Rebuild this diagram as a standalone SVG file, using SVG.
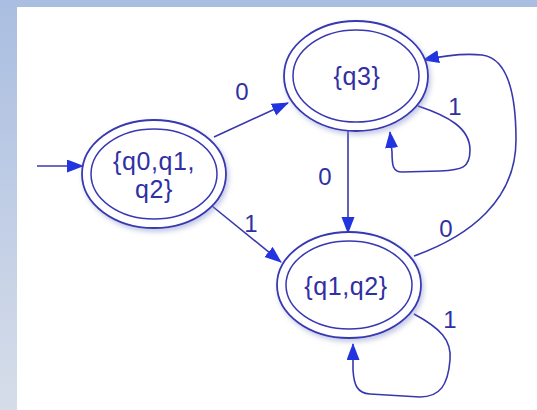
<svg xmlns="http://www.w3.org/2000/svg" width="537" height="410" viewBox="0 0 537 410">
  <defs>
    <linearGradient id="bandLeft" x1="0" y1="0" x2="0" y2="1">
      <stop offset="0" stop-color="#aabee1"/>
      <stop offset="1" stop-color="#d6dde9"/>
    </linearGradient>
    <filter id="soft" x="-20%" y="-20%" width="150%" height="150%">
      <feDropShadow dx="2" dy="3" stdDeviation="2.5" flood-color="#7f88c4" flood-opacity="0.45"/>
    </filter>
    <marker id="head" markerWidth="18" markerHeight="14" refX="16" refY="6.5" orient="auto" markerUnits="userSpaceOnUse">
      <path d="M0,0 L17,6.5 L0,13 Z" fill="#2233e0"/>
    </marker>
    <style>
      .ring { fill: #ffffff; stroke: #3838b2; stroke-width: 1.8; }
      .inner { fill: none; stroke: #3838b2; stroke-width: 1.5; }
      .edge { fill: none; stroke: #3838ae; stroke-width: 1.6; marker-end: url(#head); }
      .label { font-family: "Liberation Sans", Arial, sans-serif; font-size: 24px; fill: #3030a4; text-anchor: middle; }
      .name { font-family: "Liberation Sans", Arial, sans-serif; font-size: 25px; fill: #3030a4; text-anchor: middle; letter-spacing: 0.6px; }
    </style>
  </defs>

  <!-- page frame -->
  <rect x="0" y="0" width="537" height="410" fill="url(#bandLeft)"/>
  <rect x="0" y="0" width="537" height="7" fill="#aabee1"/>
  <rect x="17" y="7" width="520" height="403" fill="#ffffff"/>

  <!-- connectors -->
  <g id="connectors">
    <path class="edge" d="M37,166 L83,166"/>
    <path class="edge" d="M214,137 L288,103"/>
    <path class="edge" d="M212,206 L281,262"/>
    <path class="edge" d="M348,131 L348,233"/>
    <path class="edge" d="M418,106 C448,116 470,128 470,150 C470,168 462,170 440,171 L402,172 C393,172 392,166 392,152 L390,132"/>
    <path class="edge" d="M414,256 C470,236 516,200 516,140 C516,90 506,58 482,55 C462,53 442,56 423,60"/>
    <path class="edge" d="M414,314 C440,328 452,340 450,360 C448,385 440,397 420,397 L370,394 C357,393 354,385 353,370 L353,344"/>
    <text class="label" x="242" y="100">0</text>
    <text class="label" x="251" y="232">1</text>
    <text class="label" x="325" y="185">0</text>
    <text class="label" x="455" y="115">1</text>
    <text class="label" x="446" y="237">0</text>
    <text class="label" x="450" y="328">1</text>
  </g>

  <!-- start state -->
  <g id="n-q0q1q2">
    <ellipse class="ring" cx="154" cy="174" rx="72" ry="54" filter="url(#soft)"/>
    <ellipse class="inner" cx="154" cy="174" rx="63" ry="45"/>
    <text class="name" x="154" y="170">{q0,q1,</text>
    <text class="name" x="154" y="198">q2}</text>
  </g>

  <g id="n-q3">
    <ellipse class="ring" cx="356" cy="76" rx="72" ry="55" filter="url(#soft)"/>
    <ellipse class="inner" cx="356" cy="76" rx="63" ry="46"/>
    <text class="name" x="357" y="85">{q3}</text>
  </g>

  <g id="n-q1q2">
    <ellipse class="ring" cx="349" cy="285" rx="72" ry="53" filter="url(#soft)"/>
    <ellipse class="inner" cx="349" cy="285" rx="63" ry="44"/>
    <text class="name" x="346" y="295">{q1,q2}</text>
  </g>
</svg>
